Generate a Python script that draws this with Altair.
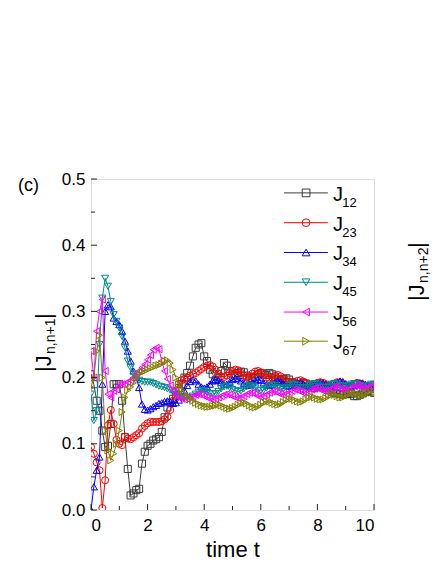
import altair as alt
import pandas as pd

# time grid (step 0.1)
t = [round(i * 0.1, 1) for i in range(101)]

J12 = [0.205, 0.19, 0.165, 0.15, 0.12, 0.095, 0.097, 0.13, 0.19, 0.19,
       0.19, 0.165, 0.11, 0.062, 0.022, 0.025, 0.03, 0.032, 0.07, 0.088,
       0.097, 0.1, 0.105, 0.107, 0.11, 0.118, 0.14, 0.155, 0.162, 0.168,
       0.173, 0.184, 0.19, 0.2, 0.207, 0.218, 0.232, 0.245, 0.25, 0.252,
       0.232, 0.225, 0.212, 0.205, 0.196, 0.2, 0.21, 0.222, 0.218, 0.21,
       0.205, 0.203, 0.207, 0.209, 0.208, 0.203, 0.2, 0.199, 0.201, 0.205,
       0.207, 0.206, 0.204, 0.207, 0.205, 0.2, 0.197, 0.196, 0.198, 0.199,
       0.197, 0.193, 0.19, 0.188, 0.19, 0.192, 0.191, 0.188, 0.185, 0.184,
       0.186, 0.188, 0.187, 0.184, 0.181, 0.178, 0.177, 0.176, 0.175, 0.174,
       0.175, 0.176, 0.175, 0.172, 0.172, 0.174, 0.176, 0.178, 0.18, 0.179,
       0.177]

J23 = [0.095, 0.085, 0.072, 0.06, 0.003, 0.045, 0.128, 0.151, 0.13, 0.106,
       0.1, 0.098, 0.111, 0.108, 0.107, 0.11, 0.113, 0.116, 0.123, 0.127,
       0.131, 0.133, 0.133, 0.133, 0.133, 0.134, 0.137, 0.141, 0.151, 0.165,
       0.18, 0.19, 0.196, 0.198, 0.2, 0.203, 0.205, 0.207, 0.21, 0.213,
       0.216, 0.218, 0.219, 0.217, 0.212, 0.206, 0.202, 0.201, 0.203, 0.207,
       0.21, 0.212, 0.211, 0.207, 0.203, 0.2, 0.202, 0.206, 0.209, 0.21,
       0.208, 0.204, 0.2, 0.198, 0.2, 0.203, 0.204, 0.202, 0.198, 0.195,
       0.193, 0.192, 0.193, 0.195, 0.196, 0.194, 0.191, 0.189, 0.188, 0.19,
       0.192, 0.193, 0.192, 0.19, 0.188, 0.189, 0.191, 0.193, 0.192, 0.19,
       0.188, 0.187, 0.188, 0.19, 0.192, 0.191, 0.189, 0.187, 0.186, 0.187,
       0.189]

J34 = [0.0, 0.035, 0.06, 0.08, 0.19, 0.3, 0.31, 0.307, 0.29, 0.285,
       0.28, 0.27, 0.255, 0.24, 0.225, 0.21, 0.2, 0.185, 0.16, 0.152,
       0.151, 0.153, 0.156, 0.158, 0.161, 0.162, 0.164, 0.165, 0.163, 0.161,
       0.162, 0.166, 0.172, 0.18, 0.188, 0.194, 0.197, 0.195, 0.19, 0.186,
       0.184, 0.186, 0.19, 0.195, 0.197, 0.196, 0.193, 0.19, 0.19, 0.193,
       0.197, 0.199, 0.198, 0.195, 0.191, 0.188, 0.189, 0.192, 0.195, 0.197,
       0.196, 0.192, 0.189, 0.188, 0.19, 0.193, 0.195, 0.194, 0.191, 0.188,
       0.187, 0.188, 0.19, 0.192, 0.192, 0.19, 0.188, 0.187, 0.188, 0.19,
       0.192, 0.193, 0.192, 0.19, 0.188, 0.188, 0.19, 0.193, 0.195, 0.194,
       0.191, 0.188, 0.187, 0.188, 0.19, 0.192, 0.192, 0.19, 0.187, 0.185,
       0.186]

J45 = [0.175, 0.135, 0.15, 0.25, 0.32, 0.35, 0.338, 0.315, 0.295, 0.285,
       0.275, 0.262, 0.245, 0.225, 0.215, 0.205, 0.2, 0.196, 0.194, 0.193,
       0.193, 0.193, 0.191, 0.189, 0.187, 0.186, 0.185, 0.183, 0.181, 0.178,
       0.175, 0.172, 0.17, 0.169, 0.169, 0.17, 0.172, 0.175, 0.178, 0.18,
       0.18, 0.178, 0.176, 0.175, 0.176, 0.179, 0.183, 0.186, 0.187, 0.185,
       0.182, 0.18, 0.179, 0.18, 0.183, 0.186, 0.188, 0.187, 0.184, 0.181,
       0.18, 0.181, 0.184, 0.187, 0.189, 0.188, 0.185, 0.183, 0.183, 0.185,
       0.188, 0.19, 0.19, 0.188, 0.185, 0.184, 0.185, 0.188, 0.19, 0.191,
       0.19, 0.187, 0.185, 0.185, 0.187, 0.19, 0.191, 0.19, 0.188, 0.186,
       0.186, 0.188, 0.19, 0.191, 0.19, 0.188, 0.186, 0.186, 0.188, 0.19,
       0.19]

J56 = [0.24, 0.2, 0.27, 0.3, 0.318, 0.21, 0.175, 0.17, 0.18, 0.182,
       0.19, 0.19, 0.191, 0.193, 0.196, 0.2, 0.205, 0.21, 0.215, 0.22,
       0.227, 0.234, 0.242, 0.245, 0.243, 0.225, 0.21, 0.198, 0.188, 0.18,
       0.174, 0.17, 0.168, 0.167, 0.168, 0.17, 0.172, 0.174, 0.175, 0.174,
       0.172, 0.17, 0.168, 0.167, 0.168, 0.17, 0.172, 0.174, 0.175, 0.174,
       0.172, 0.17, 0.169, 0.17, 0.172, 0.175, 0.177, 0.177, 0.175, 0.172,
       0.171, 0.172, 0.174, 0.177, 0.179, 0.179, 0.177, 0.175, 0.174, 0.175,
       0.178, 0.18, 0.182, 0.181, 0.179, 0.177, 0.177, 0.179, 0.182, 0.184,
       0.184, 0.182, 0.18, 0.18, 0.181, 0.184, 0.186, 0.186, 0.184, 0.182,
       0.181, 0.182, 0.185, 0.187, 0.188, 0.187, 0.185, 0.184, 0.185, 0.188,
       0.19]

J67 = [0.185, 0.2, 0.24, 0.264, 0.2, 0.12, 0.09, 0.075, 0.085, 0.1,
       0.12, 0.148, 0.17, 0.181, 0.186, 0.192, 0.2, 0.206, 0.208, 0.21,
       0.212, 0.214, 0.216, 0.218, 0.219, 0.221, 0.225, 0.226, 0.222, 0.212,
       0.2, 0.19, 0.182, 0.176, 0.172, 0.168, 0.165, 0.162, 0.16, 0.158,
       0.157, 0.156, 0.156, 0.157, 0.158, 0.159, 0.158, 0.156, 0.154, 0.153,
       0.154, 0.156, 0.159, 0.161, 0.162, 0.161, 0.158, 0.156, 0.155, 0.156,
       0.159, 0.162, 0.164, 0.164, 0.162, 0.16, 0.159, 0.16, 0.163, 0.166,
       0.168, 0.168, 0.166, 0.164, 0.163, 0.164, 0.167, 0.17, 0.171, 0.17,
       0.168, 0.167, 0.167, 0.169, 0.172, 0.174, 0.174, 0.172, 0.17, 0.17,
       0.172, 0.175, 0.177, 0.177, 0.175, 0.173, 0.173, 0.175, 0.178, 0.18,
       0.178]

series_names = ["J12", "J23", "J34", "J45", "J56", "J67"]
subscripts = ["12", "23", "34", "45", "56", "67"]
colors = ["#3c3c3c", "#ff0000", "#0000ff", "#008b8b", "#ff00ff", "#808000"]
shapes = ["square", "circle", "triangle-up", "triangle-down", "triangle-left", "triangle-right"]
legend_y = [0.479, 0.434, 0.389, 0.344, 0.299, 0.255]

x_major = [0, 2, 4, 6, 8, 10]
x_minor = [1, 3, 5, 7, 9]
y_major = [0.0, 0.1, 0.2, 0.3, 0.4, 0.5]
y_minor = [0.05, 0.15, 0.25, 0.35, 0.45]

W, H = 283, 331
FONT = "Liberation Sans"

rows = []
for name, vals in zip(series_names, [J12, J23, J34, J45, J56, J67]):
    for ti, v in zip(t, vals):
        rows.append({"t": ti, "v": v, "s": name})
df = pd.DataFrame(rows)

xs = alt.Scale(domain=[0, 10], nice=False, zero=False)
ys = alt.Scale(domain=[0, 0.5], nice=False, zero=False)
color = alt.Color("s:N", scale=alt.Scale(domain=series_names, range=colors), legend=None)
shape = alt.Shape("s:N", scale=alt.Scale(domain=series_names, range=shapes), legend=None)

xaxis = alt.Axis(values=x_major, format="d", labelFontSize=17, labelFont=FONT, labelColor="black",
                 ticks=False, tickSize=0, domain=False, grid=False, labelPadding=7,
                 title="time t", titleFont=FONT, titleFontSize=22, titleFontWeight="normal",
                 titleColor="black", titlePadding=6)
yaxis = alt.Axis(values=y_major, format=".1f", labelFontSize=17, labelFont=FONT, labelColor="black",
                 ticks=False, tickSize=0, domain=False, grid=False, labelPadding=6, title=None)

layers = []
first = True
for name in series_names:
    b = alt.Chart(df).transform_filter(alt.datum.s == name)
    if first:
        ln = b.mark_line(strokeWidth=1, clip=True).encode(
            x=alt.X("t:Q", scale=xs, axis=xaxis), y=alt.Y("v:Q", scale=ys, axis=yaxis), color=color)
        first = False
    else:
        ln = b.mark_line(strokeWidth=1, clip=True).encode(
            x=alt.X("t:Q", scale=xs), y=alt.Y("v:Q", scale=ys), color=color)
    pt = b.mark_point(filled=False, size=50, strokeWidth=1, opacity=1, clip=True).encode(
        x=alt.X("t:Q", scale=xs), y=alt.Y("v:Q", scale=ys), color=color, shape=shape)
    layers += [ln, pt]

# inward ticks
xticks_min = alt.Chart(pd.DataFrame({"p": x_minor})).mark_rule(color="#222", strokeWidth=1).encode(
    x=alt.X("p:Q", scale=xs), y=alt.value(H), y2=alt.value(H - 4))
xticks_maj = alt.Chart(pd.DataFrame({"p": x_major})).mark_rule(color="#222", strokeWidth=1).encode(
    x=alt.X("p:Q", scale=xs), y=alt.value(H), y2=alt.value(H - 6))
yticks_min = alt.Chart(pd.DataFrame({"p": y_minor})).mark_rule(color="#222", strokeWidth=1).encode(
    y=alt.Y("p:Q", scale=ys), x=alt.value(0), x2=alt.value(4))
yticks_maj = alt.Chart(pd.DataFrame({"p": y_major})).mark_rule(color="#222", strokeWidth=1).encode(
    y=alt.Y("p:Q", scale=ys), x=alt.value(0), x2=alt.value(6))

# legend
leg = pd.DataFrame({"s": series_names, "y": legend_y, "sub": subscripts,
                    "x1": [6.82] * 6, "x2": [8.37] * 6, "xm": [7.6] * 6,
                    "xj": [8.55] * 6, "xs": [8.88] * 6})
leg_line = alt.Chart(leg).mark_rule(strokeWidth=1).encode(
    x=alt.X("x1:Q", scale=xs), x2="x2:Q", y=alt.Y("y:Q", scale=ys), color=color)
leg_pt = alt.Chart(leg).mark_point(filled=False, size=60, strokeWidth=1, opacity=1).encode(
    x=alt.X("xm:Q", scale=xs), y=alt.Y("y:Q", scale=ys), color=color, shape=shape)
leg_J = alt.Chart(leg).mark_text(text="J", fontSize=20, font=FONT, align="left", baseline="middle",
                                  dy=2, color="black").encode(
    x=alt.X("xj:Q", scale=xs), y=alt.Y("y:Q", scale=ys))
leg_sub = alt.Chart(leg).mark_text(fontSize=13, font=FONT, align="left", baseline="middle",
                                    dy=10, color="black").encode(
    x=alt.X("xs:Q", scale=xs), y=alt.Y("y:Q", scale=ys), text="sub:N")

one = pd.DataFrame({"a": [0]})
# y-axis title |J_{n,n+1}|
ytitle = [
    alt.Chart(one).mark_text(text="|J", fontSize=22, font=FONT, angle=270,
        align="left", baseline="middle", color="black").encode(x=alt.value(-47), y=alt.value(193)),
    alt.Chart(one).mark_text(text="n,n+1", fontSize=14, font=FONT, angle=270,
        align="left", baseline="middle", color="black").encode(x=alt.value(-40), y=alt.value(175)),
    alt.Chart(one).mark_text(text="|", fontSize=22, font=FONT, angle=270,
        align="left", baseline="middle", color="black").encode(x=alt.value(-47), y=alt.value(140)),
]
# panel letter
panel = alt.Chart(one).mark_text(text="(c)", fontSize=18, font=FONT,
    align="left", baseline="middle", color="black").encode(x=alt.value(-73), y=alt.value(7))
# neighbour panel's label (at the window edge)
right_lbl = [
    alt.Chart(one).mark_text(text="|J", fontSize=22, font=FONT, angle=270,
        align="left", baseline="middle", color="black").encode(x=alt.value(326), y=alt.value(122)),
    alt.Chart(one).mark_text(text="n,n+2", fontSize=14, font=FONT, angle=270,
        align="left", baseline="middle", color="black").encode(x=alt.value(333), y=alt.value(104)),
    alt.Chart(one).mark_text(text="|", fontSize=22, font=FONT, angle=270,
        align="left", baseline="middle", color="black").encode(x=alt.value(326), y=alt.value(69)),
]

chart = alt.layer(
    *layers, xticks_min, xticks_maj, yticks_min, yticks_maj,
    leg_line, leg_pt, leg_J, leg_sub, *ytitle, panel, *right_lbl
).properties(
    width=W, height=H,
    autosize=alt.AutoSizeParams(type="none"),
    padding={"left": 83, "top": 171, "right": 58, "bottom": 52},
).configure_view(stroke="#222", strokeWidth=1.5).configure(background="white")

chart.save("out.html", embed_options={"renderer": "svg", "actions": False})
